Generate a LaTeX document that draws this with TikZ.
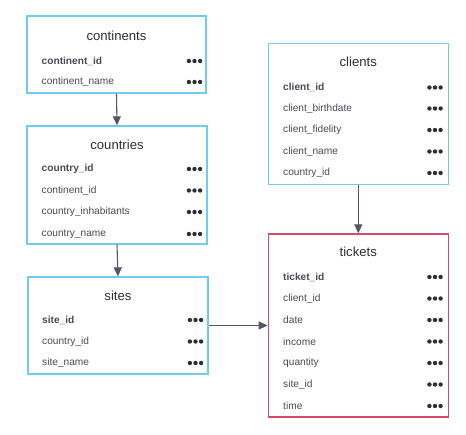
\documentclass[tikz,border=0pt]{standalone}
\usepackage{fontspec}
\setmainfont{Liberation Sans}
\usetikzlibrary{arrows.meta}
\definecolor{tblblue}{HTML}{6CCDEE}
\definecolor{tblred}{HTML}{D9476C}
\definecolor{txt}{HTML}{4A4A55}
\definecolor{ttl}{HTML}{2E2E36}
\definecolor{arr}{HTML}{55556A}
\tikzset{
  tbl/.style={draw=#1, line width=1.3bp, fill=white, inner sep=0pt},
  ttltext/.style={font=\fontsize{13.2}{15}\selectfont, text=ttl, inner sep=0pt},
  fld/.style={font=\fontsize{10.2}{12}\selectfont, text=txt, anchor=west, inner sep=0pt},
  keyfld/.style={fld, font=\fontsize{10.2}{12}\selectfont\bfseries},
  conn/.style={draw=arr, line width=1.1bp, -{Triangle[length=9bp,width=8bp]}},
}
\newcommand{\dotsat}[2]{%
  \fill[ttl] (#1-5.6,#2) circle [radius=2.2bp] (#1,#2) circle [radius=2.2bp] (#1+5.6,#2) circle [radius=2.2bp];}
\begin{document}
\begin{tikzpicture}[x=1bp,y=-1bp]
\useasboundingbox[fill=white] (0,0) rectangle (466,435);

% continents
\node[tbl=tblblue, minimum width=179bp, minimum height=77bp] (continents) at (116.5,54.5) {};
\node[ttltext] (continentsT) at (116.5,35.5) {continents};
\node[keyfld] (c1) at (41.5,61) {continent\_id};
\node[fld] (c2) at (41.5,82) {continent\_name};
\dotsat{194.5}{61}\dotsat{194.5}{82}

% countries
\node[tbl=tblblue, minimum width=180bp, minimum height=118bp] (countries) at (117,185) {};
\node[ttltext] (countriesT) at (117,144.5) {countries};
\node[keyfld] (k1) at (41.5,169) {country\_id};
\node[fld] (k2) at (41.5,190.5) {continent\_id};
\node[fld] (k3) at (41.5,212) {country\_inhabitants};
\node[fld] (k4) at (41.5,234) {country\_name};
\dotsat{194.5}{169}\dotsat{194.5}{190.5}\dotsat{194.5}{212}\dotsat{194.5}{234}

% sites
\node[tbl=tblblue, minimum width=180bp, minimum height=97bp] (sites) at (118,325.5) {};
\node[ttltext] (sitesT) at (118,295.5) {sites};
\node[keyfld] (s1) at (42,320) {site\_id};
\node[fld] (s2) at (42,341.5) {country\_id};
\node[fld] (s3) at (42,363) {site\_name};
\dotsat{195.5}{320}\dotsat{195.5}{341.5}\dotsat{195.5}{363}

% clients
\node[tbl=tblblue, minimum width=180bp, minimum height=141bp] (clients) at (358.3,113.7) {};
\node[ttltext] (clientsT) at (358.3,62) {clients};
\node[keyfld] (l1) at (283,87.5) {client\_id};
\node[fld] (l2) at (283,108.5) {client\_birthdate};
\node[fld] (l3) at (283,130) {client\_fidelity};
\node[fld] (l4) at (283,151.5) {client\_name};
\node[fld] (l5) at (283,173) {country\_id};
\dotsat{435}{87.5}\dotsat{435}{108.5}\dotsat{435}{130}\dotsat{435}{151.5}\dotsat{435}{173}

% tickets
\node[tbl=tblred, minimum width=180bp, minimum height=183bp] (tickets) at (358.3,325.5) {};
\node[ttltext] (ticketsT) at (358.3,252) {tickets};
\node[keyfld] (t1) at (283,277) {ticket\_id};
\node[fld] (t2) at (283,298.5) {client\_id};
\node[fld] (t3) at (283,320) {date};
\node[fld] (t4) at (283,341.5) {income};
\node[fld] (t5) at (283,363) {quantity};
\node[fld] (t6) at (283,384.5) {site\_id};
\node[fld] (t7) at (283,406) {time};
\foreach \yy in {277,298.5,320,341.5,363,384.5,406} {\dotsat{435}{\yy}}

% connectors
\draw[conn] (continents.south) -- (countries.north);
\draw[conn] (countries.south) -- (sites.north);
\draw[conn] (sites.east) -- (tickets.west);
\draw[conn] (clients.south) -- (tickets.north);
\end{tikzpicture}
\end{document}
